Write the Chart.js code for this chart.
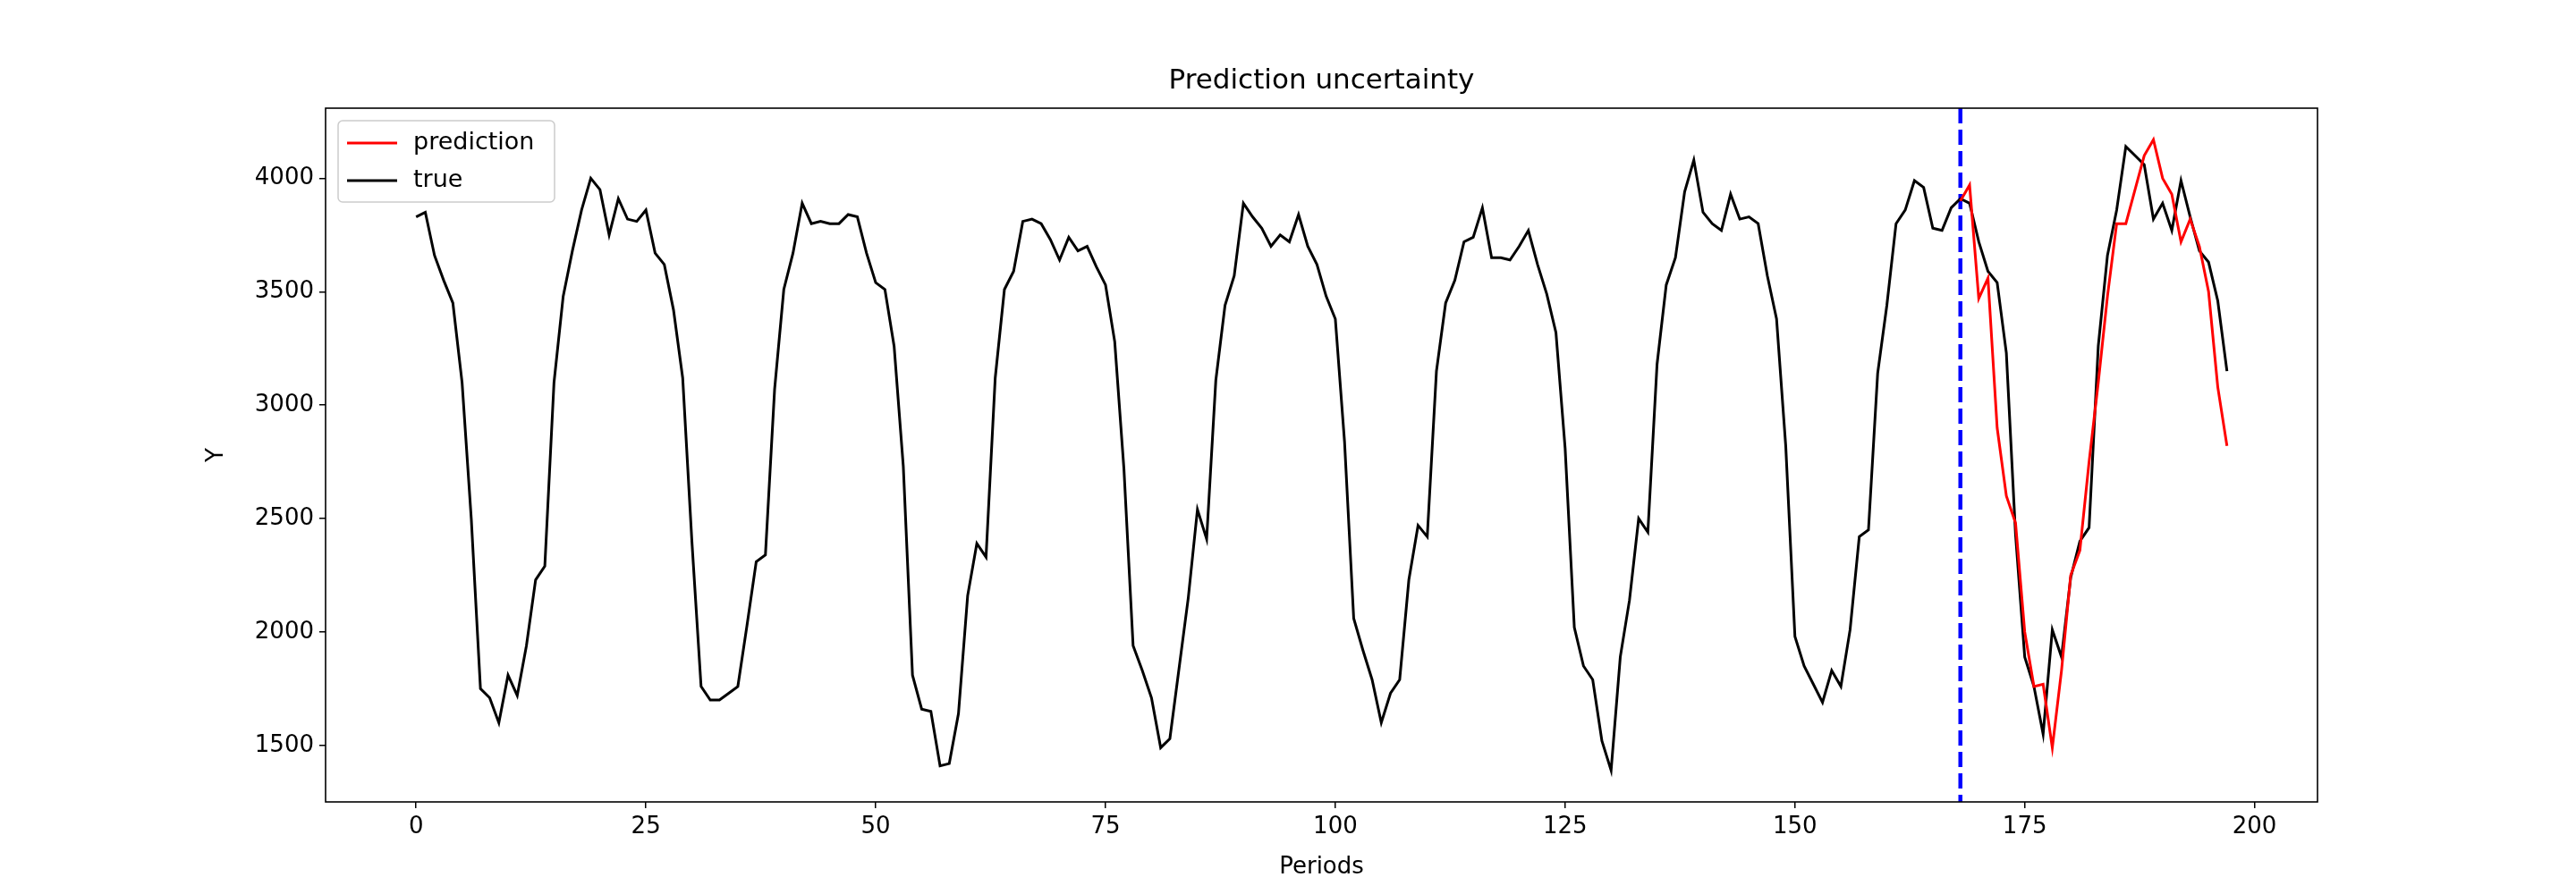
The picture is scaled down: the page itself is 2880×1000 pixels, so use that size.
<!DOCTYPE html>
<html>
<head>
<meta charset="utf-8">
<script src="https://cdn.jsdelivr.net/npm/chart.js@4"></script>
<style>
  html, body { margin: 0; padding: 0; background: #fff; }
  #wrap { width: 2880px; height: 1000px; }
</style>
</head>
<body>
<div id="wrap"><canvas id="c" width="2880" height="1000"></canvas></div>
<script>
// ── Data ──
const trueValues = [
  3830, 3850, 3660, 3550, 3450, 3100, 2500, 1750, 1710, 1600,
  1810, 1720, 1940, 2230, 2290, 3100, 3480, 3680, 3860, 4000,
  3950, 3750, 3910, 3820, 3810, 3860, 3670, 3620, 3420, 3120,
  2400, 1760, 1700, 1700, 1730, 1760, 2030, 2310, 2340, 3070,
  3510, 3670, 3890, 3800, 3810, 3800, 3800, 3840, 3830, 3670,
  3540, 3510, 3260, 2730, 1810, 1660, 1650, 1410, 1420, 1640,
  2160, 2390, 2330, 3120, 3510, 3590, 3810, 3820, 3800, 3730,
  3640, 3740, 3680, 3700, 3610, 3530, 3280, 2720, 1940, 1830,
  1710, 1490, 1530, 1840, 2150, 2540, 2410, 3110, 3440, 3570,
  3890, 3830, 3780, 3700, 3750, 3720, 3840, 3700, 3620, 3480,
  3380, 2840, 2060, 1920, 1790, 1600, 1730, 1790, 2230, 2470,
  2420, 3150, 3450, 3550, 3720, 3740, 3870, 3650, 3650, 3640,
  3700, 3770, 3620, 3490, 3320, 2810, 2020, 1850, 1790, 1520,
  1390, 1890, 2140, 2500, 2440, 3180, 3530, 3650, 3940, 4080,
  3850, 3800, 3770, 3930, 3820, 3830, 3800, 3570, 3380, 2820,
  1980, 1850, 1770, 1690, 1830, 1760, 2010, 2420, 2450, 3140,
  3440, 3800, 3860, 3990, 3960, 3780, 3770, 3870, 3910, 3890,
  3720, 3590, 3540, 3230, 2430, 1890, 1760, 1550, 2010, 1890,
  2240, 2400, 2460, 3260, 3660, 3860, 4140, 4100, 4060, 3820,
  3890, 3770, 3990, 3830, 3680, 3630, 3460, 3150
];
const predStart = 168;
const predValues = [
  3900, 3970, 3470, 3560, 2900, 2600, 2480, 2000, 1760, 1770,
  1490, 1830, 2250, 2360, 2750, 3100, 3480, 3800, 3800, 3950,
  4100, 4170, 4000, 3930, 3720, 3820, 3700, 3500, 3080, 2820
];
const splitAt = 168;
const xTicks = [0, 25, 50, 75, 100, 125, 150, 175, 200];
const yTicks = [1500, 2000, 2500, 3000, 3500, 4000];

const FONT = "'DejaVu Sans', sans-serif";

// ── Decorations: frame, split line, titles, legend ──
const decor = {
  id: 'decor',
  beforeDatasetsDraw(chart) {
    const { ctx, chartArea: a } = chart;
    const x = chart.scales.x.getPixelForValue(splitAt);
    ctx.save();
    ctx.strokeStyle = '#0000ff';
    ctx.lineWidth = 4.5;
    ctx.setLineDash([17, 7]);
    ctx.beginPath();
    ctx.moveTo(x, a.top);
    ctx.lineTo(x, a.bottom);
    ctx.stroke();
    ctx.restore();
  },
  afterDraw(chart) {
    const { ctx, chartArea: a } = chart;
    ctx.save();
    ctx.strokeStyle = '#000';
    ctx.lineWidth = 1.6;
    ctx.strokeRect(a.left, a.top, a.right - a.left, a.bottom - a.top);

    ctx.fillStyle = '#000';
    ctx.font = `31px ${FONT}`;
    ctx.textAlign = 'center';
    ctx.textBaseline = 'middle';
    ctx.fillText('Prediction uncertainty', (a.left + a.right) / 2, 91);

    ctx.font = `26px ${FONT}`;
    ctx.fillText('Periods', (a.left + a.right) / 2, 970);
    ctx.save();
    ctx.translate(242, (a.top + a.bottom) / 2);
    ctx.rotate(-Math.PI / 2);
    ctx.fillText('Y', 0, 0);
    ctx.restore();

    // legend box
    const lx = a.left + 14, ly = a.top + 14, lw = 242, lh = 91;
    ctx.fillStyle = 'rgba(255,255,255,0.8)';
    ctx.strokeStyle = '#cccccc';
    ctx.lineWidth = 1.5;
    ctx.beginPath();
    ctx.roundRect(lx, ly, lw, lh, 5);
    ctx.fill();
    ctx.stroke();
    const items = [['prediction', '#ff0000'], ['true', '#000000']];
    ctx.font = `27px ${FONT}`;
    ctx.textAlign = 'left';
    items.forEach(([label, color], i) => {
      const yy = ly + 25 + i * 42;
      ctx.strokeStyle = color;
      ctx.lineWidth = 3;
      ctx.beginPath();
      ctx.moveTo(lx + 10, yy);
      ctx.lineTo(lx + 66, yy);
      ctx.stroke();
      ctx.fillStyle = '#000';
      ctx.fillText(label, lx + 84, yy);
    });
    ctx.restore();
  }
};

const tickFilter = list => scale => {
  scale.ticks = list.map(v => ({ value: v }));
};

new Chart(document.getElementById('c'), {
  type: 'line',
  data: {
    datasets: [
      {
        label: 'prediction',
        data: predValues.map((v, i) => ({ x: predStart + i, y: v })),
        borderColor: '#ff0000',
        borderWidth: 3,
        pointRadius: 0,
        tension: 0,
      },
      {
        label: 'true',
        data: trueValues.map((v, i) => ({ x: i, y: v })),
        borderColor: '#000000',
        borderWidth: 3,
        pointRadius: 0,
        tension: 0,
      }
    ]
  },
  options: {
    responsive: false,
    animation: false,
    layout: { padding: { left: 0, right: 289, top: 121, bottom: 0 } },
    plugins: { legend: { display: false }, tooltip: { enabled: false } },
    scales: {
      x: {
        type: 'linear',
        min: -9.85,
        max: 206.85,
        afterBuildTicks: tickFilter(xTicks),
        afterFit: s => { s.height = 103; },
        grid: { drawOnChartArea: false, drawTicks: true, tickLength: 7, color: '#000', lineWidth: 1.5 },
        border: { display: false },
        ticks: { color: '#000', font: { size: 26, family: FONT }, padding: 6, callback: v => String(v) }
      },
      y: {
        min: 1251,
        max: 4309,
        afterBuildTicks: tickFilter(yTicks),
        afterFit: s => { s.width = 364; },
        grid: { drawOnChartArea: false, drawTicks: true, tickLength: 7, color: '#000', lineWidth: 1.5 },
        border: { display: false },
        ticks: { color: '#000', font: { size: 26, family: FONT }, padding: 6, callback: v => String(v) }
      }
    }
  },
  plugins: [decor]
});
</script>
</body>
</html>
